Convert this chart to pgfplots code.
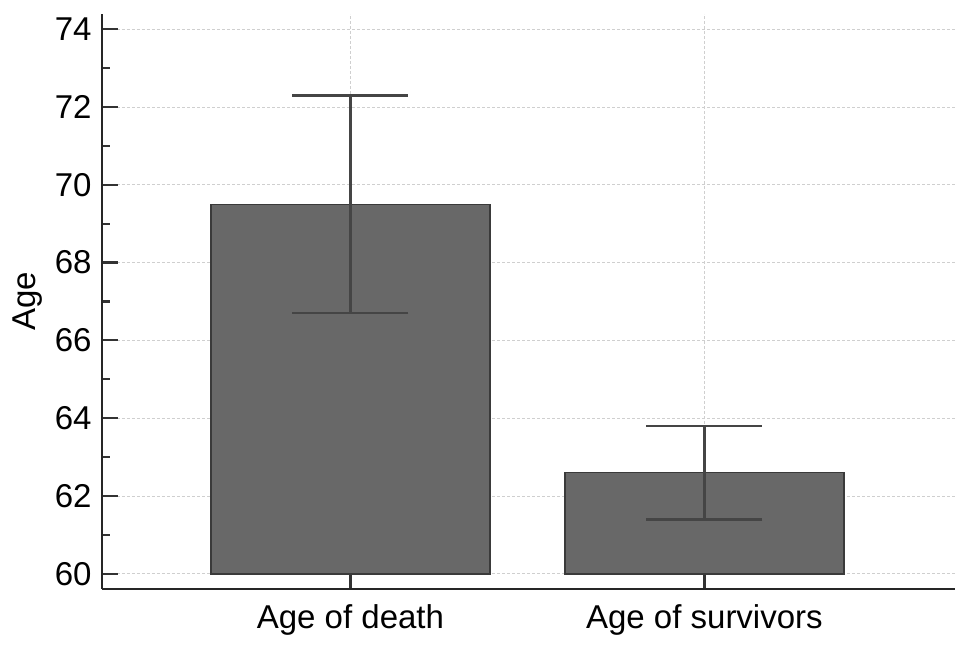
\documentclass[border=0pt]{standalone}
\usepackage{pgfplots}
\pgfplotsset{compat=1.18}
\usepackage{fontspec}
\setmainfont{Liberation Sans}
\definecolor{barfill}{HTML}{686868}
\definecolor{baredge}{HTML}{3A3A3A}
\definecolor{errcol}{HTML}{454545}
\definecolor{gridcol}{HTML}{CFCFCF}
\begin{document}
\begin{tikzpicture}
\begin{axis}[
  scale only axis,
  width=853pt, height=575pt,
  xmin=-0.702, xmax=1.708,
  ymin=59.61, ymax=74.39,
  % bars start at 60, so shift the y coordinates internally
  y coord trafo/.code={\pgfmathparse{#1-60}},
  y coord inv trafo/.code={\pgfmathparse{#1+60}},
  axis x line=bottom, axis y line=left,
  axis line style={-, line width=2.8pt, color=black!85},
  xtick={0,1},
  xticklabels={Age of death,Age of survivors},
  ytick={60,62,...,74},
  yticklabel={\pgfmathprintnumber[fixed,precision=0]{\tick}},
  minor y tick num=1,
  tick align=inside,
  major tick length=16pt,
  minor tick length=8pt,
  every tick/.style={line width=2.2pt, color=black!80},
  grid=major,
  major grid style={dash pattern=on 3pt off 2pt, gridcol, line width=0.9pt},
  tick label style={font=\fontsize{33}{36}\selectfont},
  /pgf/number format/assume math mode=true,
  yticklabel style={xshift=-7pt},
  xticklabel style={yshift=-12pt},
  ylabel={Age},
  ylabel style={font=\fontsize{33}{36}\selectfont, yshift=6pt},
]
\addplot[ybar, bar width=279pt, fill=barfill, draw=baredge, line width=1.4pt,
  error bars/.cd, y dir=both, y explicit,
  error bar style={line width=2.6pt, errcol},
  error mark options={errcol, line width=2.6pt, mark size=58pt, rotate=90}]
  coordinates {
  (0,69.5) +- (0,2.8)
  (1,62.6) +- (0,1.2)
};
\end{axis}
\path ([shift={(-102pt,-61pt)}]current axis.south west) rectangle ([shift={(14pt,14pt)}]current axis.north east);
\end{tikzpicture}
\end{document}
